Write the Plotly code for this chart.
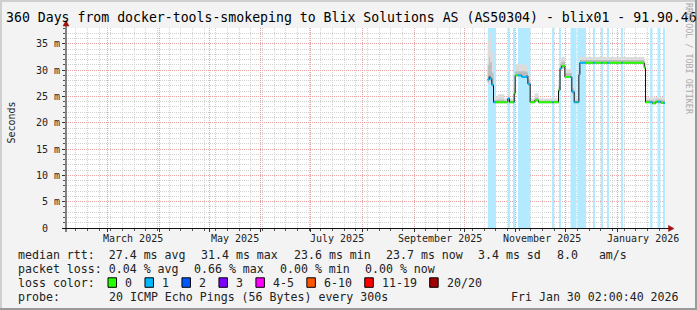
import plotly.graph_objects as go
import pandas as pd

# ---------------- data ----------------
x_range = ["2025-02-04 02:00:40", "2026-01-30 02:00:40"]
y_max = 38  # axis top (ms)

month_grid = ["2025-03-01", "2025-04-01", "2025-05-01", "2025-06-01", "2025-07-01",
              "2025-08-01", "2025-09-01", "2025-10-01", "2025-11-01", "2025-12-01",
              "2026-01-01"]
month_label_dates = ["2025-03-16 12:00", "2025-05-16 12:00", "2025-07-16 12:00",
                     "2025-09-16 12:00", "2025-11-16 12:00", "2026-01-16 12:00"]
month_labels = ["March 2025", "May 2025", "July 2025", "September 2025",
                "November 2025", "January 2026"]

y_tick_vals = [0, 5, 10, 15, 20, 25, 30, 35]
y_tick_text = ["0\u00a0\u00a0", "5 m", "10 m", "15 m", "20 m", "25 m", "30 m", "35 m"]

# median rtt (ms), step series
med_dates = ["2025-10-15 02:00", "2025-10-16 00:00", "2025-10-16 12:00", "2025-10-17 14:00",
             "2025-10-18 14:00", "2025-10-21 00:00", "2025-10-25 00:00", "2025-10-27 05:00",
             "2025-10-28 05:00", "2025-10-31 00:00", "2025-10-31 14:00", "2025-11-04 14:00",
             "2025-11-07 14:00", "2025-11-08 05:00", "2025-11-09 14:00", "2025-11-12 10:00",
             "2025-11-14 14:00", "2025-11-26 14:00", "2025-11-27 12:00", "2025-11-28 12:00",
             "2025-11-30 10:00", "2025-12-04 14:00", "2025-12-06 00:00", "2025-12-08 19:00",
             "2025-12-09 10:00", "2026-01-17 00:00", "2026-01-17 19:00", "2026-01-22 00:00",
             "2026-01-24 00:00", "2026-01-27 00:00", "2026-01-29 12:00"]
median_ms = [28.2, 28.8, 28.4, 27.2, 23.9, 23.9, 23.9, 24.6, 23.9, 25.6, 29.0, 28.7,
             28.9, 27.4, 23.9, 24.3, 23.9, 26.2, 30.3, 30.8, 28.7, 25.9, 23.9, 29.1,
             31.4, 30.5, 23.9, 23.7, 24.0, 23.8, 23.8]
smoke_min = [27.6, 28.2, 27.9, 26.8, 23.7, 23.7, 23.7, 24.2, 23.7, 25.2, 28.8, 28.5,
             28.6, 27.0, 23.7, 24.0, 23.7, 25.8, 29.9, 30.3, 28.5, 25.5, 23.7, 28.8,
             31.2, 30.2, 23.7, 23.5, 23.7, 23.6, 23.6]
smoke_mid = [31.0, 32.5, 31.5, 29.5, 24.3, 24.4, 24.2, 25.0, 24.2, 26.5, 29.8, 29.8,
             29.6, 28.2, 24.2, 24.8, 24.2, 27.0, 31.2, 31.6, 29.4, 26.5, 24.2, 30.0,
             31.9, 31.2, 24.3, 24.2, 24.4, 24.3, 24.3]
smoke_max = [35.5, 37.8, 37.0, 33.5, 25.0, 25.4, 24.6, 25.6, 24.6, 27.5, 31.2, 31.0,
             30.8, 29.0, 24.6, 25.6, 24.6, 28.0, 32.2, 32.5, 30.2, 27.2, 24.5, 31.0,
             32.5, 31.8, 24.8, 24.8, 24.9, 24.8, 24.8]

# periods with 1/20 packet loss
loss_start = ["2025-10-15 05:00", "2025-10-27 07:00", "2025-10-30 07:00", "2025-11-02 07:00",
              "2025-11-22 23:00", "2025-11-26 21:00", "2025-12-03 19:00", "2025-12-08 02:00",
              "2025-12-17 14:00", "2025-12-22 02:00", "2025-12-26 00:00", "2026-01-03 02:00",
              "2026-01-20 12:00", "2026-01-24 23:00", "2026-01-28 14:00"]
loss_end = ["2025-10-20 02:00", "2025-10-28 07:00", "2025-10-31 02:00", "2025-11-09 16:00",
            "2025-11-23 21:00", "2025-11-28 02:00", "2025-12-07 09:00", "2025-12-13 02:00",
            "2025-12-18 12:00", "2025-12-22 23:00", "2025-12-26 21:00", "2026-01-03 23:00",
            "2026-01-22 00:00", "2026-01-26 19:00", "2026-01-29 12:00"]

title_text = "360 Days from docker-tools-smokeping to Blix Solutions AS (AS50304) - blix01 - 91.90.46"
legend_line1 = ["median rtt:  27.4 ms avg", "31.4 ms max", "23.6 ms min", "23.7 ms now",
                "3.4 ms sd", "8.0   am/s"]
legend_line2 = ["packet loss: 0.04 % avg", "0.66 % max", "0.00 % min", "0.00 % now"]
loss_labels = ["0", "1", "2", "3", "4-5", "6-10", "11-19", "20/20"]
loss_colors = ["#26ff00", "#00b8ff", "#0059ff", "#7e00ff", "#ff00ff", "#ff5500", "#ff0000", "#a10000"]
probe_text = "20 ICMP Echo Pings (56 Bytes) every 300s"
date_text = "Fri Jan 30 02:00:40 2026"

# ---------------- helpers ----------------
L, R, T, B = 66, 31, 28, 82
W, H = 697, 310
PW, PH = W - L - R, H - T - B
MONO = "DejaVu Sans Mono"


def fx(px):
    return (px - L) / PW


def fy(py):
    return (T + PH - py) / PH


def nb(s):
    return s.replace(" ", "\u00a0")


fig = go.Figure()

# loss background bars
ls = pd.to_datetime(loss_start)
le = pd.to_datetime(loss_end)
mids = ls + (le - ls) / 2
widths = [(e - s).total_seconds() * 1000 for s, e in zip(ls, le)]
fig.add_trace(go.Bar(x=mids, y=[y_max] * len(mids), width=widths,
                     marker=dict(color="#b3eaff", line=dict(width=0)),
                     hoverinfo="skip", showlegend=False))

# smoke
for lo, hi, col in [(smoke_min, smoke_max, "#dcdcdc"), (smoke_min, smoke_mid, "#bdbdbd")]:
    fig.add_trace(go.Scatter(x=med_dates, y=lo, mode="lines",
                             line=dict(width=0, shape="hv"), hoverinfo="skip", showlegend=False))
    fig.add_trace(go.Scatter(x=med_dates, y=hi, mode="lines", fill="tonexty", fillcolor=col,
                             line=dict(width=0, shape="hv"), hoverinfo="skip", showlegend=False))

# median black step line
fig.add_trace(go.Scatter(x=med_dates, y=median_ms, mode="lines",
                         line=dict(color="#111111", width=1, shape="hv"),
                         hoverinfo="skip", showlegend=False))

# coloured horizontal median segments by loss
mt = pd.to_datetime(med_dates)
bands = list(zip(ls, le))
gx, gy, bx, by = [], [], [], []
for i in range(len(mt) - 1):
    t0, t1, v = mt[i], mt[i + 1], median_ms[i]
    cuts = {t0, t1}
    for s, e in bands:
        if t0 < s < t1:
            cuts.add(s)
        if t0 < e < t1:
            cuts.add(e)
    cuts = sorted(cuts)
    for a, b in zip(cuts[:-1], cuts[1:]):
        m = a + (b - a) / 2
        lossy = any(s <= m <= e for s, e in bands)
        X, Y = (bx, by) if lossy else (gx, gy)
        X += [a, b, None]
        Y += [v, v, None]
fig.add_trace(go.Scatter(x=gx, y=gy, mode="lines", line=dict(color=loss_colors[0], width=2),
                         hoverinfo="skip", showlegend=False, connectgaps=False))
fig.add_trace(go.Scatter(x=bx, y=by, mode="lines", line=dict(color=loss_colors[1], width=2),
                         hoverinfo="skip", showlegend=False, connectgaps=False))

GRID_MAJ = "#e9a3a3"
GRID_MIN = "#d2d2d2"

fig.update_layout(
    width=W, height=H, margin=dict(l=L, r=R, t=T, b=B, pad=0),
    paper_bgcolor="#f3f3f3", plot_bgcolor="#ffffff", showlegend=False,
    barmode="overlay",
    xaxis=dict(type="date", range=x_range, tickmode="array", tickvals=month_grid,
               showticklabels=False, showgrid=True, gridcolor=GRID_MAJ, griddash="1px,1px",
               gridwidth=1, ticks="outside", ticklen=3, tickcolor="#333333", zeroline=False,
               showline=False, fixedrange=True,
               minor=dict(tick0="2025-02-10", dtick=7 * 86400000, showgrid=True,
                          gridcolor=GRID_MIN, griddash="1px,1px", ticks="outside",
                          ticklen=2, tickcolor="#555555")),
    yaxis=dict(range=[0, y_max], tickmode="array", tickvals=y_tick_vals, ticktext=y_tick_text,
               showgrid=True, gridcolor=GRID_MAJ, griddash="1px,1px", gridwidth=1,
               ticks="outside", ticklen=3, tickcolor="#333333", zeroline=False, showline=False,
               tickfont=dict(family=MONO, size=10, color="#222222"), fixedrange=True,
               minor=dict(dtick=1, showgrid=True, gridcolor=GRID_MIN, griddash="1px,1px",
                          ticks="outside", ticklen=2, tickcolor="#555555")),
)

shapes = []
ann = []

# border (3D)
shapes += [
    dict(type="rect", xref="paper", yref="paper", x0=fx(0), x1=fx(W), y0=fy(0), y1=fy(2),
         fillcolor="#cfcfcf", line=dict(width=0), layer="above"),
    dict(type="rect", xref="paper", yref="paper", x0=fx(0), x1=fx(2), y0=fy(0), y1=fy(H),
         fillcolor="#cfcfcf", line=dict(width=0), layer="above"),
    dict(type="rect", xref="paper", yref="paper", x0=fx(0), x1=fx(W), y0=fy(H - 2), y1=fy(H),
         fillcolor="#9a9a9a", line=dict(width=0), layer="above"),
    dict(type="rect", xref="paper", yref="paper", x0=fx(W - 2), x1=fx(W), y0=fy(0), y1=fy(H),
         fillcolor="#9a9a9a", line=dict(width=0), layer="above"),
]

# axes lines and arrows
shapes += [
    dict(type="line", xref="paper", yref="paper", x0=fx(62), x1=fx(669), y0=fy(228.5), y1=fy(228.5),
         line=dict(color="#111111", width=1), layer="above"),
    dict(type="line", xref="paper", yref="paper", x0=fx(66), x1=fx(66), y0=fy(232), y1=fy(25),
         line=dict(color="#111111", width=1), layer="above"),
    dict(type="path", xref="paper", yref="paper",
         path=f"M {fx(668.5)} {fy(225.5)} L {fx(674)} {fy(228.5)} L {fx(668.5)} {fy(231.5)} Z",
         fillcolor="#a01010", line=dict(color="#a01010", width=0.5), layer="above"),
    dict(type="path", xref="paper", yref="paper",
         path=f"M {fx(63)} {fy(26)} L {fx(66)} {fy(20.5)} L {fx(69)} {fy(26)} Z",
         fillcolor="#a01010", line=dict(color="#a01010", width=0.5), layer="above"),
]

# title
ann.append(dict(text=nb(title_text), xref="paper", yref="paper", x=fx(3.8), y=fy(18),
                xanchor="left", yanchor="middle", showarrow=False,
                font=dict(family=MONO, size=13.2, color="#000000")))
# watermark
ann.append(dict(text=nb("RRDTOOL / TOBI OETIKER"), xref="paper", yref="paper", x=fx(688.5),
                y=fy(58.5), xanchor="center", yanchor="middle", textangle=90, showarrow=False,
                font=dict(family=MONO, size=8.4, color="#aaaaaa")))
# y axis title
ann.append(dict(text="Seconds", xref="paper", yref="paper", x=fx(10.5), y=fy(123),
                xanchor="center", yanchor="middle", textangle=-90, showarrow=False,
                font=dict(family=MONO, size=10, color="#222222")))
# month labels
for d, lab in zip(month_label_dates, month_labels):
    ann.append(dict(text=nb(lab), xref="x", yref="paper", x=d, y=fy(238.5),
                    xanchor="center", yanchor="middle", showarrow=False,
                    font=dict(family=MONO, size=10, color="#222222")))

LF = dict(family=MONO, size=11.6, color="#222222")


def legtext(s, px, py, anchor="left"):
    ann.append(dict(text=nb(s), xref="paper", yref="paper", x=fx(px), y=fy(py),
                    xanchor=anchor, yanchor="middle", showarrow=False, font=LF))


CH = 6.98
GAP = 15.6
# line 1
x = 16.0
for s in legend_line1:
    legtext(s, x, 254.5)
    x += len(s) * CH + GAP
# line 2
x = 16.0
for s in legend_line2:
    legtext(s, x, 268.5)
    x += len(s) * CH + GAP
# line 3
legtext("loss color:", 16.0, 282.5)
bx0 = 108.0
for lab, col in zip(loss_labels, loss_colors):
    shapes.append(dict(type="rect", xref="paper", yref="paper", x0=fx(bx0), x1=fx(bx0 + 8.5),
                       y0=fy(277.8), y1=fy(287.3), fillcolor=col,
                       line=dict(color="#000000", width=1), layer="above"))
    legtext(lab, bx0 + 15.0, 282.5)
    bx0 += 15.5 + len(lab) * CH + 14.5
# line 4
legtext("probe:", 16.0, 296.5)
legtext(probe_text, 107.0, 296.5)
legtext(date_text, 681.0, 296.5, anchor="right")

fig.update_layout(shapes=shapes, annotations=ann)
fig.write_html("out.html")
